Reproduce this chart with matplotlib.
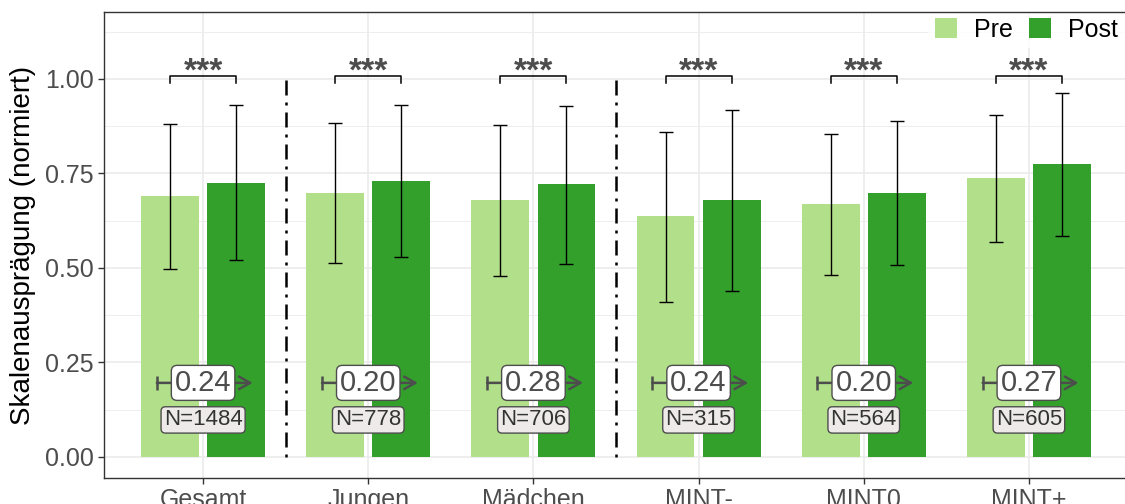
import matplotlib
matplotlib.use("Agg")
import matplotlib.pyplot as plt
from matplotlib.patches import Patch
from matplotlib.ticker import FixedLocator
import numpy as np

plt.rcParams["font.family"] = ["Liberation Sans", "DejaVu Sans"]

# ---- data ------------------------------------------------------------
groups = ["Gesamt", "Jungen", "Mädchen", "MINT-", "MINT0", "MINT+"]
pre_mean = [0.690, 0.698, 0.680, 0.638, 0.668, 0.738]
post_mean = [0.725, 0.730, 0.722, 0.680, 0.698, 0.775]
pre_lo = [0.497, 0.512, 0.479, 0.410, 0.482, 0.569]
pre_hi = [0.881, 0.883, 0.878, 0.860, 0.853, 0.905]
post_lo = [0.521, 0.530, 0.511, 0.439, 0.508, 0.585]
post_hi = [0.930, 0.930, 0.929, 0.918, 0.888, 0.963]
effect = ["0.24", "0.20", "0.28", "0.24", "0.20", "0.27"]
n_labels = ["N=1484", "N=778", "N=706", "N=315", "N=564", "N=605"]
stars = ["***"] * 6
separators = [1.5, 3.5]

PRE_COL = "#b2df8a"
POST_COL = "#33a02c"
GREY = "#4d4d4d"

fig = plt.figure(figsize=(11.25, 5.04), dpi=100)
ax = fig.add_axes([104 / 1125, 26 / 504, 1024 / 1125, 466 / 504])

x = np.arange(1, len(groups) + 1)
w = 0.35
off = 0.2

pre_mean = np.array(pre_mean)
post_mean = np.array(post_mean)

ax.bar(x - off, pre_mean, width=w, color=PRE_COL, zorder=2)
ax.bar(x + off, post_mean, width=w, color=POST_COL, zorder=2)

pre_err = [pre_mean - np.array(pre_lo), np.array(pre_hi) - pre_mean]
post_err = [post_mean - np.array(post_lo), np.array(post_hi) - post_mean]
ekw = dict(fmt="none", ecolor="black", elinewidth=1.0, capsize=5, capthick=1.0, zorder=3)
ax.errorbar(x - off, pre_mean, yerr=pre_err, **ekw)
ax.errorbar(x + off, post_mean, yerr=post_err, **ekw)

# significance brackets
for xi, s in zip(x, stars):
    ax.plot([xi - off, xi - off, xi + off, xi + off], [0.99, 1.008, 1.008, 0.99],
            color="black", lw=1.1, zorder=3)
    ax.text(xi, 0.996, s, ha="center", va="baseline", fontsize=24,
            fontweight="bold", color=GREY, zorder=4)

# group separators
for sx in separators:
    ax.plot([sx, sx], [0, 1], color="black", lw=1.8,
            linestyle=(0, (1.2, 2.8, 6, 2.8)), zorder=3)

# effect-size arrows with labels
for xi, e, n in zip(x, effect, n_labels):
    ax.annotate("", xy=(xi + 0.30, 0.196), xytext=(xi - 0.28, 0.196),
                arrowprops=dict(arrowstyle="->,head_length=0.8,head_width=0.45",
                                color=GREY, lw=1.8, shrinkA=0, shrinkB=0), zorder=4)
    ax.plot([xi - 0.28], [0.196], marker="|", markersize=10, mew=1.8, color=GREY, zorder=4)
    ax.text(xi, 0.196, e, ha="center", va="center", fontsize=21, color=GREY, zorder=5,
            bbox=dict(boxstyle="round,pad=0.12,rounding_size=0.2", fc="white",
                      ec=GREY, lw=1.0))
    ax.text(xi, 0.098, n, ha="center", va="center", fontsize=16, color="#333333", zorder=5,
            bbox=dict(boxstyle="round,pad=0.12,rounding_size=0.2", fc="#eeeaea",
                      ec=GREY, lw=1.0))

ax.set_xlim(0.4, 6.6)
ax.set_ylim(-0.0556, 1.177)
ax.set_xticks(x)
ax.set_xticklabels(groups)
ax.yaxis.set_major_locator(FixedLocator([0, 0.25, 0.5, 0.75, 1.0]))
ax.yaxis.set_minor_locator(FixedLocator([0.125, 0.375, 0.625, 0.875, 1.125]))
ax.set_yticklabels(["0.00", "0.25", "0.50", "0.75", "1.00"])
ax.tick_params(axis="both", which="major", labelsize=18, labelcolor=GREY,
               color="#333333", length=4, width=1)
ax.tick_params(axis="y", which="minor", length=0)
ax.grid(True, which="major", color="#ebebeb", lw=1.2, zorder=0)
ax.grid(True, which="minor", axis="y", color="#ebebeb", lw=0.6, zorder=0)
ax.set_axisbelow(True)
for sp in ax.spines.values():
    sp.set_color("#333333")
    sp.set_linewidth(1.0)

ax.set_ylabel("Skalenausprägung (normiert)", fontsize=20, color="black", labelpad=6)

handles = [Patch(facecolor=PRE_COL, label="Pre"), Patch(facecolor=POST_COL, label="Post")]
leg = ax.legend(handles=handles, loc="upper right", ncol=2, fontsize=18,
                bbox_to_anchor=(1137 / 1125, 1 + 1 / 504), bbox_transform=fig.transFigure,
                handlelength=0.88, handleheight=0.88, handletextpad=0.68, columnspacing=0.68,
                borderpad=0.25, frameon=True, fancybox=False)
leg.get_frame().set_facecolor("white")
leg.get_frame().set_edgecolor("none")
leg.set_zorder(2.4)  # keep the panel border drawn over the legend box

fig.savefig("out.png", dpi=100)
